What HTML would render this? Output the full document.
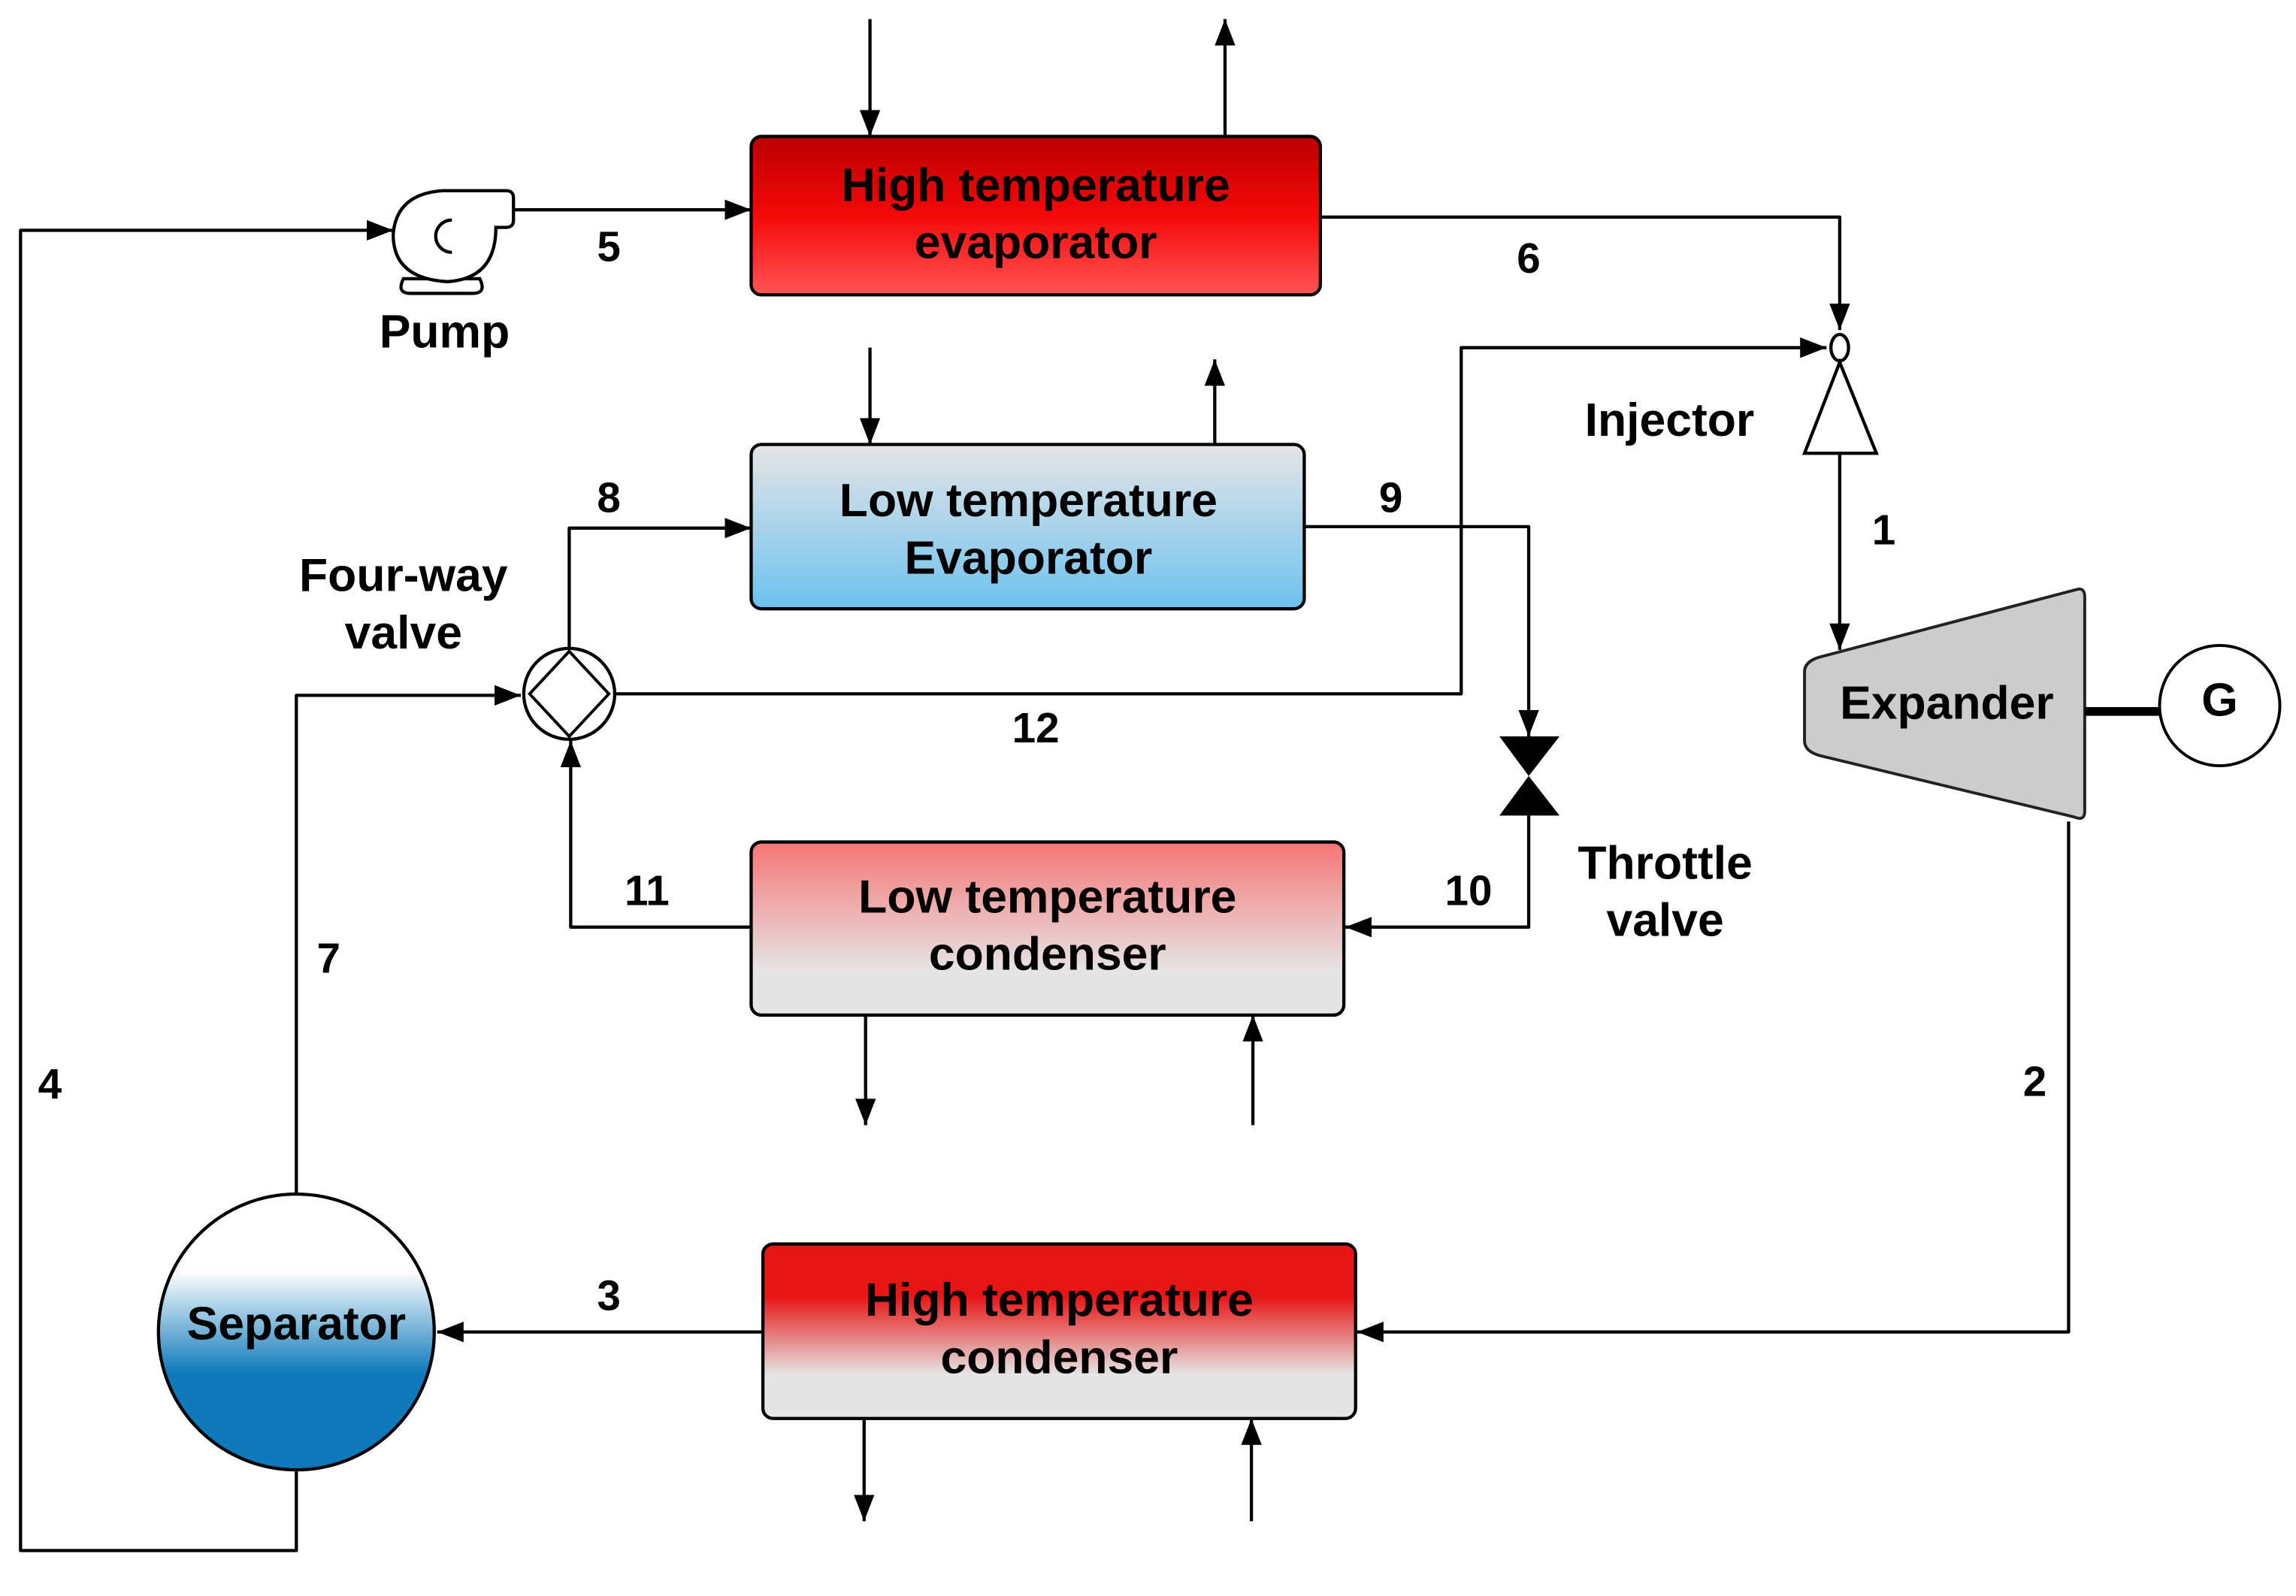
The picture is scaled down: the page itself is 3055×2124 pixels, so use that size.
<!DOCTYPE html>
<html><head><meta charset="utf-8"><style>
html,body{margin:0;padding:0;background:#fff}
svg{display:block}
text{font-family:"Liberation Sans",Arial,sans-serif;font-weight:bold;fill:#000}
</style></head><body>
<svg width="3055" height="2124" viewBox="0 0 1565 1088" preserveAspectRatio="none" xmlns="http://www.w3.org/2000/svg">
<defs>
<marker id="a" viewBox="0 0 18 14" refX="18" refY="7" markerWidth="18" markerHeight="14" markerUnits="userSpaceOnUse" orient="auto"><path d="M0,0L18,7L0,14z" fill="#000"/></marker>
<linearGradient id="hte" x1="0" y1="0" x2="0" y2="1"><stop offset="0" stop-color="#bb0000"/><stop offset="0.5" stop-color="#f50808"/><stop offset="1" stop-color="#ff5555"/></linearGradient>
<linearGradient id="lte" x1="0" y1="0" x2="0" y2="1"><stop offset="0" stop-color="#e5e5e5"/><stop offset="1" stop-color="#6cc2ef"/></linearGradient>
<linearGradient id="ltc" x1="0" y1="0" x2="0" y2="1"><stop offset="0" stop-color="#f77575"/><stop offset="0.75" stop-color="#e5e5e5"/><stop offset="1" stop-color="#e5e5e5"/></linearGradient>
<linearGradient id="htc" x1="0" y1="0" x2="0" y2="1"><stop offset="0" stop-color="#e81515"/><stop offset="0.3" stop-color="#e81515"/><stop offset="0.75" stop-color="#e5e5e5"/><stop offset="1" stop-color="#e5e5e5"/></linearGradient>
<linearGradient id="sep" x1="0" y1="0" x2="0" y2="1"><stop offset="0" stop-color="#fff"/><stop offset="0.28" stop-color="#fff"/><stop offset="0.65" stop-color="#0e7abb"/><stop offset="1" stop-color="#0e7abb"/></linearGradient>
</defs>
<g fill="none" stroke="#000" stroke-width="2.2" stroke-linejoin="round">
<path d="M593,13V93" marker-end="url(#a)"/>
<path d="M835,93V13" marker-end="url(#a)"/>
<path d="M593,237V303" marker-end="url(#a)"/>
<path d="M828,303V245" marker-end="url(#a)"/>
<path d="M590,692V767" marker-end="url(#a)"/>
<path d="M854,767V692" marker-end="url(#a)"/>
<path d="M589,967V1037" marker-end="url(#a)"/>
<path d="M853,1037V967" marker-end="url(#a)"/>
<path d="M350,143H512" marker-end="url(#a)"/>
<path d="M202,1003V1057H14V157H268" marker-end="url(#a)"/>
<path d="M900,148H1254V225" marker-end="url(#a)"/>
<path d="M1254,309V443" marker-end="url(#a)"/>
<path d="M1410,560V908H925" marker-end="url(#a)"/>
<path d="M520,908H298" marker-end="url(#a)"/>
<path d="M202,814V474H355" marker-end="url(#a)"/>
<path d="M388,442V360H512" marker-end="url(#a)"/>
<path d="M889,359H1042V502" marker-end="url(#a)"/>
<path d="M420,473H996V237H1245" marker-end="url(#a)"/>
<path d="M1042,556V632H917" marker-end="url(#a)"/>
<path d="M512,632H389V505" marker-end="url(#a)"/>
</g>
<rect x="512" y="93" width="388" height="108" rx="7" fill="url(#hte)" stroke="#000" stroke-width="2.2"/>
<rect x="512" y="303" width="377" height="112" rx="7" fill="url(#lte)" stroke="#000" stroke-width="2.2"/>
<rect x="512" y="574" width="404" height="118" rx="7" fill="url(#ltc)" stroke="#000" stroke-width="2.2"/>
<rect x="520" y="848" width="404" height="119" rx="7" fill="url(#htc)" stroke="#000" stroke-width="2.2"/>
<circle cx="202" cy="908" r="94" fill="url(#sep)" stroke="#000" stroke-width="2.2"/>
<circle cx="388" cy="473" r="31" fill="#fff" stroke="#000" stroke-width="2.2"/>
<path d="M388,444L415,473L388,502L361,473Z" fill="none" stroke="#000" stroke-width="2"/>
<ellipse cx="1254" cy="237" rx="6" ry="9" fill="#fff" stroke="#000" stroke-width="2.2"/>
<path d="M1254,247L1279,309H1230Z" fill="#fff" stroke="#000" stroke-width="2.2"/>
<path d="M1022,502H1063L1042,529Z M1022,556H1063L1042,529Z" fill="#000"/>
<path d="M1240,448L1415,402Q1421,400 1421,407V553Q1421,560 1414,557L1240,515Q1230,512 1230,505V458Q1230,451 1240,448Z" fill="#cccccc" stroke="#222" stroke-width="2"/>
<path d="M1421,485H1472" stroke="#000" stroke-width="6"/>
<circle cx="1513" cy="481" r="41" fill="#fff" stroke="#000" stroke-width="2"/>
<g fill="#fff" stroke="#000" stroke-width="2.2">
<path d="M275,190Q270,200 280,200H322Q332,200 327,190Z"/>
<path d="M302,130H345Q350,130 350,135V150Q350,155 345,155H338Q338,190 305,192Q268,190 268,160Q270,132 302,130Z"/>
<path d="M308,150A11,11 0 1 0 308,172" fill="none"/>
</g>
<g font-size="32" text-anchor="middle">
<text x="706" y="137">High temperature</text>
<text x="706" y="176">evaporator</text>
<text x="701" y="352">Low temperature</text>
<text x="701" y="391">Evaporator</text>
<text x="714" y="622">Low temperature</text>
<text x="714" y="661">condenser</text>
<text x="722" y="897">High temperature</text>
<text x="722" y="936">condenser</text>
<text x="202" y="913">Separator</text>
<text x="1327" y="490">Expander</text>
<text x="1513" y="488">G</text>
<text x="303" y="237">Pump</text>
<text x="1138" y="297">Injector</text>
<text x="275" y="403">Four-way</text>
<text x="275" y="442">valve</text>
<text x="1135" y="599">Throttle</text>
<text x="1135" y="638">valve</text>
</g>
<g font-size="29" text-anchor="middle">
<text x="415" y="178">5</text>
<text x="1042" y="186">6</text>
<text x="1284" y="371">1</text>
<text x="1387" y="747">2</text>
<text x="415" y="893">3</text>
<text x="34" y="749">4</text>
<text x="224" y="663">7</text>
<text x="415" y="349">8</text>
<text x="948" y="349">9</text>
<text x="1001" y="617">10</text>
<text x="441" y="617">11</text>
<text x="706" y="506">12</text>
</g>
</svg>
</body></html>
